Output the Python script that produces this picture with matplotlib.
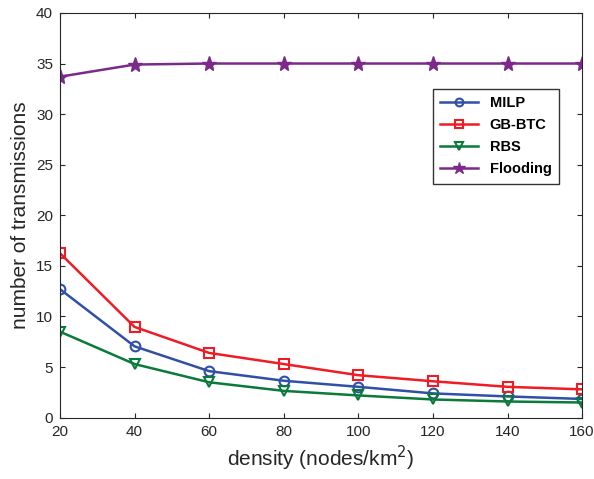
import matplotlib
matplotlib.use("Agg")
import matplotlib.pyplot as plt

plt.rcParams['font.family'] = ['Liberation Sans', 'DejaVu Sans']

# Daten
density = [20, 40, 60, 80, 100, 120, 140, 160]
milp = [12.7, 7.05, 4.6, 3.65, 3.05, 2.4, 2.1, 1.85]
gb_btc = [16.25, 8.97, 6.4, 5.3, 4.2, 3.6, 3.05, 2.8]
rbs = [8.5, 5.3, 3.5, 2.65, 2.2, 1.8, 1.6, 1.5]
flooding = [33.7, 34.9, 35.0, 35.0, 35.0, 35.0, 35.0, 35.0]

fig = plt.figure(figsize=(5.94, 4.79), dpi=100)
ax = fig.add_axes([0.101, 0.128, 0.879, 0.845])

ax.plot(density, milp, color="#3050a8", marker="o", mfc="none", ms=7, mew=1.5, lw=1.8, label="MILP")
ax.plot(density, gb_btc, color="#ee1c24", marker="s", mfc="none", ms=7, mew=1.5, lw=1.8, label="GB-BTC")
ax.plot(density, rbs, color="#0a7a3a", marker="v", mfc="none", ms=7.5, mew=1.5, lw=1.8, label="RBS")
ax.plot(density, flooding, color="#7b2a8a", marker="*", ms=11, lw=1.8, label="Flooding")

ax.set_xlim(20, 160)
ax.set_ylim(0, 40)
ax.set_xticks(density)
ax.set_yticks(range(0, 41, 5))
ax.tick_params(direction="in", top=True, right=True, labelsize=11, colors="#262626", pad=5)
for s in ax.spines.values():
    s.set_color("#262626")
ax.set_xlabel("density (nodes/km$^2$)", fontsize=15, color="#262626")
ax.set_ylabel("number of transmissions", fontsize=15, color="#262626")

leg = ax.legend(loc="upper left", bbox_to_anchor=(0.70, 0.83), fancybox=False,
                edgecolor="black", prop={"weight": "bold", "size": 10.5},
                handlelength=2.6, markerscale=0.8, borderpad=0.5, labelspacing=0.55)
leg.get_frame().set_linewidth(1.0)

fig.savefig("out.png", dpi=100)
